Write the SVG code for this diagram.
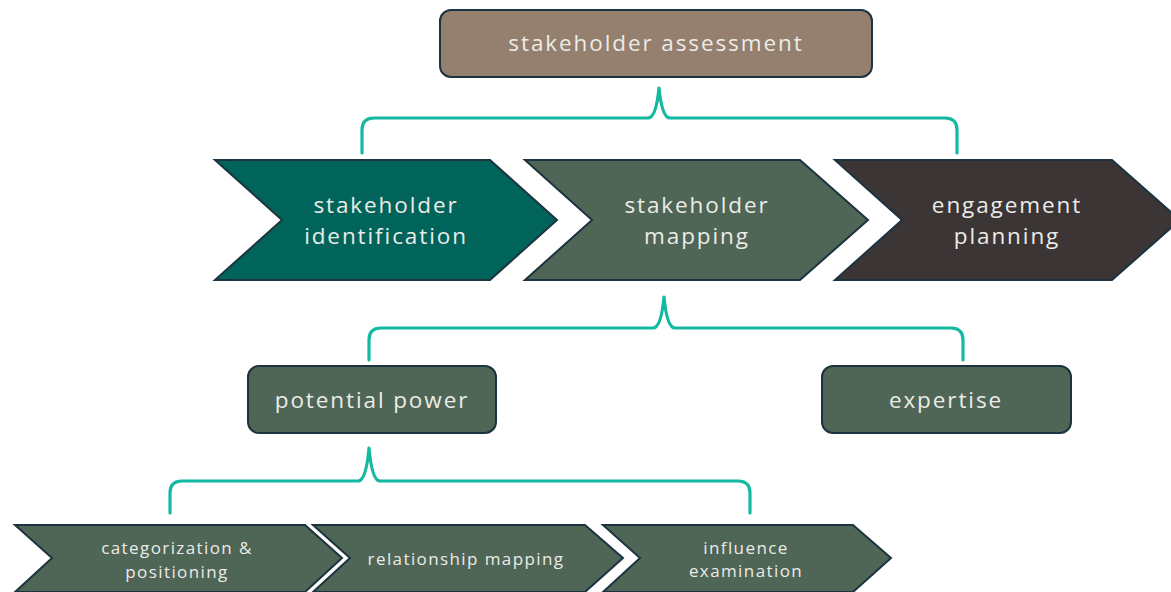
<svg xmlns="http://www.w3.org/2000/svg" width="1171" height="592" viewBox="0 0 1171 592">
  <style>
    .box { stroke: #1c3340; stroke-width: 2; }
    .chev { stroke: #1c3340; stroke-width: 2; stroke-linejoin: miter; }
    .brace { fill: none; stroke: #13b9a0; stroke-width: 3.2; stroke-linecap: round; stroke-linejoin: round; }
    .lbl { font-family: "Open Sans", "Liberation Sans", sans-serif; fill: #ecebe8; text-anchor: middle; }
    .big { font-size: 22.5px; letter-spacing: 1.9px; }
    .small { font-size: 17px; letter-spacing: 1.4px; }
  </style>
  <rect width="1171" height="592" fill="#ffffff"/>

  <!-- brace connectors -->
  <g id="connectors">
    <path class="brace" d="M362,153 L362,130 Q362,118 374,118 L648,118 Q656,118 659,88 Q662,118 670,118 L945,118 Q957,118 957,130 L957,153"/>
    <path class="brace" d="M369,360 L369,340 Q369,328 381,328 L653,328 Q661,328 664,297 Q667,328 675,328 L951,328 Q963,328 963,340 L963,360"/>
    <path class="brace" d="M170,513 L170,493 Q170,481 182,481 L358,481 Q366,481 369,448 Q372,481 380,481 L738,481 Q750,481 750,493 L750,513"/>
  </g>

  <g id="stakeholder-assessment">
    <rect class="box" x="440" y="10" width="432" height="67" rx="11" fill="#957f6e"/>
    <text class="lbl big" x="656" y="51">stakeholder assessment</text>
  </g>

  <g id="stakeholder-identification">
    <polygon class="chev" points="215,160 490,160 557,220 490,280 215,280 282,220" fill="#00645a"/>
    <text class="lbl big" x="386" y="213">stakeholder</text>
    <text class="lbl big" x="386" y="244">identification</text>
  </g>

  <g id="stakeholder-mapping">
    <polygon class="chev" points="525,160 800,160 868,220 800,280 525,280 592,220" fill="#4f6656"/>
    <text class="lbl big" x="697" y="213">stakeholder</text>
    <text class="lbl big" x="697" y="244">mapping</text>
  </g>

  <g id="engagement-planning">
    <polygon class="chev" points="835,160 1112,160 1180,220 1112,280 835,280 902,220" fill="#3c3536"/>
    <text class="lbl big" x="1007" y="213">engagement</text>
    <text class="lbl big" x="1007" y="244">planning</text>
  </g>

  <g id="potential-power">
    <rect class="box" x="248" y="366" width="248" height="67" rx="11" fill="#4f6656"/>
    <text class="lbl big" x="372" y="408">potential power</text>
  </g>

  <g id="expertise">
    <rect class="box" x="822" y="366" width="249" height="67" rx="11" fill="#4f6656"/>
    <text class="lbl big" x="946" y="408">expertise</text>
  </g>

  <g id="categorization-positioning">
    <polygon class="chev" points="15,525 305,525 342,558 305,592 15,592 52,558" fill="#4f6656"/>
    <text class="lbl small" x="177" y="554">categorization &amp;</text>
    <text class="lbl small" x="177" y="578">positioning</text>
  </g>

  <g id="relationship-mapping">
    <polygon class="chev" points="313,525 585,525 623,558 585,592 313,592 350,558" fill="#4f6656"/>
    <text class="lbl small" x="466" y="565">relationship mapping</text>
  </g>

  <g id="influence-examination">
    <polygon class="chev" points="603,525 853,525 891,558 853,592 603,592 640,558" fill="#4f6656"/>
    <text class="lbl small" x="746" y="554">influence</text>
    <text class="lbl small" x="746" y="577">examination</text>
  </g>
</svg>
